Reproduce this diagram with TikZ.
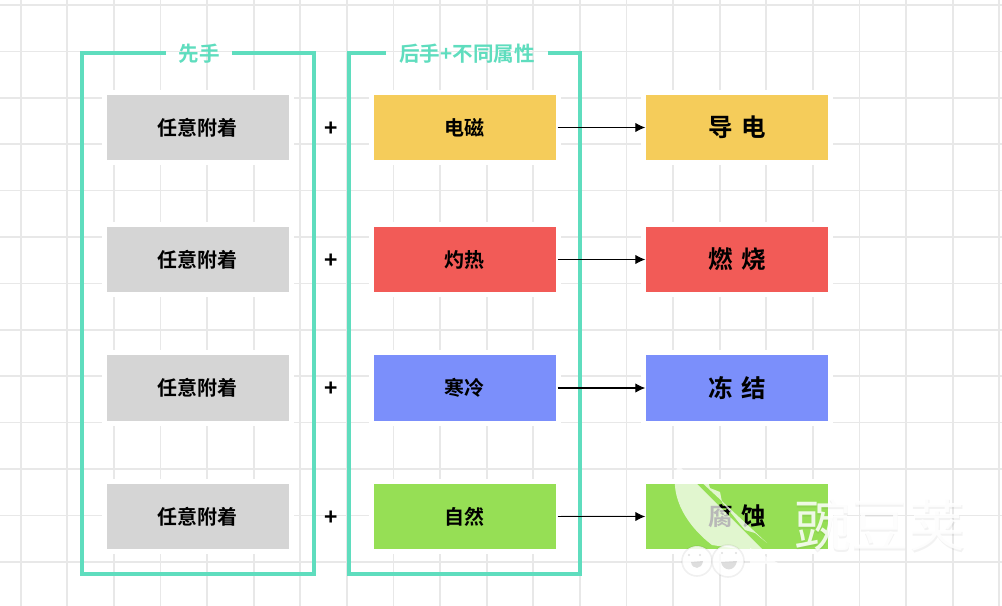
\documentclass[tikz,border=0pt]{standalone}
\usepackage{fontspec}
\setmainfont{Noto Sans CJK SC}[BoldFont={Noto Sans CJK SC Bold}]
\newfontfamily\cjkbold{Noto Sans CJK SC Bold}
\newfontfamily\cjkreg{Noto Sans CJK SC}
\usetikzlibrary{arrows.meta}
\definecolor{gridc}{HTML}{E8E8E8}
\definecolor{teal}{HTML}{5FDDBE}
\definecolor{grayb}{HTML}{D5D5D5}
\definecolor{yel}{HTML}{F5CC5A}
\definecolor{redb}{HTML}{F25B57}
\definecolor{blu}{HTML}{7B8FFB}
\definecolor{grn}{HTML}{96DF55}
\newcommand{\dropped}[1]{\raisebox{-1.9pt}{#1}}
\tikzset{
  x=0.75pt,y=-0.75pt,
  gridline/.style={draw=gridc,line width=1.3pt},
  frameline/.style={draw=teal,line width=3pt,line cap=butt,line join=miter},
  cell/.style={preaction={draw=white,line width=7.5pt},inner sep=0pt,outer sep=0pt,minimum width=136.5pt,minimum height=49pt,text=black,font=\cjkbold\fontsize{15pt}{16pt}\selectfont},
  result/.style={cell,font=\cjkbold\fontsize{18.4pt}{20pt}\selectfont},
  plus/.style={inner sep=0pt,text=black,font=\cjkbold\fontsize{17pt}{18pt}\selectfont},
  head/.style={inner sep=0pt,text=teal,font=\cjkbold\fontsize{15.4pt}{16pt}\selectfont},
  conn/.style={draw=black,line width=0.8pt,-{Latex[length=7.5pt,width=7pt]},shorten <=1.5pt,shorten >=0.5pt},
  wm/.style={fill=white,fill opacity=0.72,draw=none},
  wmface/.style={fill=white,fill opacity=0.82,draw=black,draw opacity=0.06,line width=1.2pt},
  wmmark/.style={fill=black,fill opacity=0.13,draw=none},
}
\begin{document}
\begin{tikzpicture}
\useasboundingbox (0,0) rectangle (1002,606);
\fill[white] (0,0) rectangle (1002,606);
\foreach \k in {0,...,21} \draw[gridline] ({20.7+46.6*\k},0) -- ({20.7+46.6*\k},606);
\foreach \k in {0,...,12} \draw[gridline] (0,{5+46.4*\k}) -- (1002,{5+46.4*\k});

\coordinate (fa) at (166,53);
\coordinate (fb) at (82,53);
\coordinate (fc) at (82,574);
\coordinate (fd) at (314,574);
\coordinate (fe) at (314,53);
\coordinate (ff) at (232,53);
\draw[frameline] (fa) -- (fb) -- (fc) -- (fd) -- (fe) -- (ff);
\coordinate (ga) at (386,53);
\coordinate (gb) at (349,53);
\coordinate (gc) at (349,574);
\coordinate (gd) at (580,574);
\coordinate (ge) at (580,53);
\coordinate (gf) at (548,53);
\draw[frameline] (ga) -- (gb) -- (gc) -- (gd) -- (ge) -- (gf);
\node[head] (h1) at (199,54) {先手};
\node[head] (h2) at (467,54) {后手+不同属性};

\foreach \n/\y/\ca/\ta/\tb in {1/127.5/yel/电磁/导\hspace{0.33em}电,2/259.5/redb/灼热/燃\hspace{0.33em}烧,3/388/blu/寒冷/冻\hspace{0.33em}结,4/516.5/grn/自然/腐\hspace{0.33em}蚀}{
  \node[cell,fill=grayb] (a\n) at (197.5,\y) {\dropped{任意附着}};
  \node[plus] (p\n) at (331,\y+1.5) {+};
  \node[cell,fill=\ca] (b\n) at (464.5,\y) {\dropped{\ta}};
  \node[result,fill=\ca] (c\n) at (737,\y) {\dropped{\tb}};
  \draw[conn] (b\n.east) -- (c\n.west);
}

% watermark: leaf, bean pod, tail
\path[wm] (678,465) .. controls (668,490) and (682,522) .. (712,545)
  -- (745,550) -- (762,549) -- cycle;
\path[wm] (697,478) -- (707,478) -- (710,488) -- (720,492) -- (722,502)
  -- (745,530) -- (755,533) -- (767,543) -- cycle;
\path[wm] (750,548) -- (778,563) -- (750,565) -- cycle;
% watermark: two smiling faces
\path[wmface] (697,561) circle[radius=15];
\path[wmface] (728,561) circle[radius=16];
\path[wmmark] (700,555) circle[radius=1.2];
\path[wmmark] (689,555) circle[radius=1.2];
\path[wmmark] (722,553) circle[radius=1.2];
\path[wmmark] (736,553) circle[radius=1.2];
\path[wmmark] (691,562) .. controls (692,570) and (702,570) .. (703,561) -- cycle;
\path[wmmark] (721,562) .. controls (723,572) and (735,572) .. (737,561) -- cycle;
% watermark: word
\node[inner sep=0pt,text=black,text opacity=0.05,font=\cjkreg\fontsize{43pt}{45pt}\selectfont] (wmshadow) at (880.5,526.5) {豌豆荚};
\node[inner sep=0pt,text=white,text opacity=0.85,font=\cjkreg\fontsize{43pt}{45pt}\selectfont] (wmtext) at (880,525) {豌豆荚};
\end{tikzpicture}
\end{document}
